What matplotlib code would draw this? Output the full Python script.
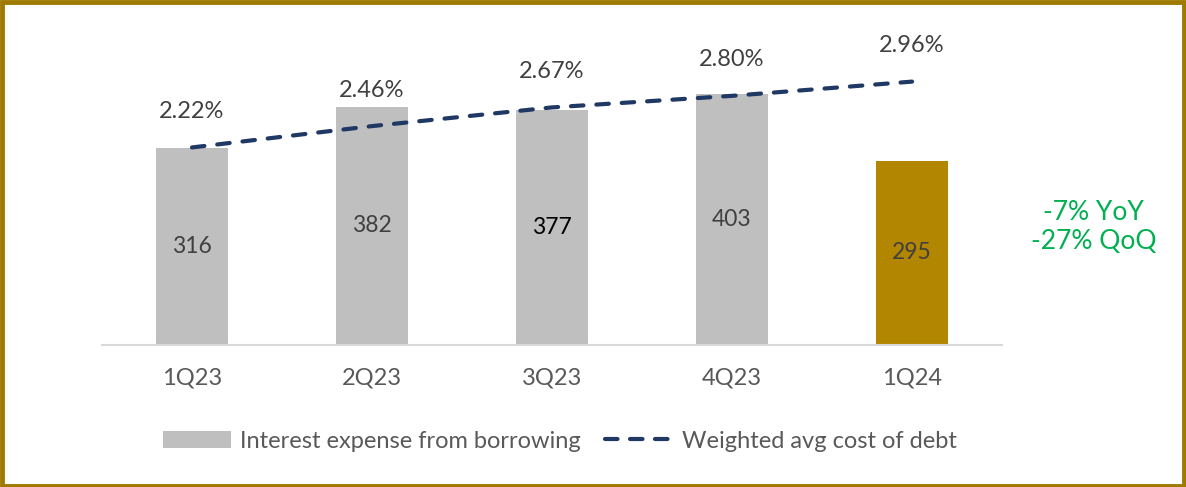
import matplotlib
matplotlib.use("Agg")
import matplotlib.pyplot as plt
from matplotlib.patches import Rectangle, Patch
from matplotlib.lines import Line2D

plt.rcParams['font.family'] = ['Lato', 'DejaVu Sans']

quarters = ['1Q23', '2Q23', '3Q23', '4Q23', '1Q24']
interest_expense = [316, 382, 377, 403, 295]
cost_of_debt = [2.22, 2.46, 2.67, 2.80, 2.96]
bar_colors = ['#BFBFBF', '#BFBFBF', '#BFBFBF', '#BFBFBF', '#B38600']
value_colors = ['#404040', '#404040', '#000000', '#404040', '#404040']

navy = '#1F3864'
text_grey = '#595959'

fig = plt.figure(figsize=(11.86, 4.87), dpi=100)
ax = fig.add_axes([0.086, 0.2916, 0.7589, 0.6468])
ax2 = ax.twinx()

x = list(range(len(quarters)))
ax.bar(x, interest_expense, width=0.4, color=bar_colors, zorder=2)
for i, v in enumerate(interest_expense):
    ax.text(i, v / 2, f'{v}', ha='center', va='center', fontsize=16.5,
            color=value_colors[i])

ax.set_xlim(-0.5, 4.5)
ax.set_ylim(0, 505)
ax.set_xticks(x)
ax.set_xticklabels(quarters, fontsize=17, color=text_grey)
ax.tick_params(axis='x', length=0, pad=16)
ax.set_yticks([])
for side in ['top', 'right', 'left']:
    ax.spines[side].set_visible(False)
ax.spines['bottom'].set_color('#D9D9D9')
ax.spines['bottom'].set_linewidth(1.5)

# cost of debt on its own scale, dashed (gap tuned so the last dash reaches 1Q24)
ax2.plot(x, cost_of_debt, color=navy, lw=3, linestyle=(0, (3, 3.1)),
         dash_capstyle='round', zorder=3)
for i, v in enumerate(cost_of_debt):
    ax2.annotate(f'{v:.2f}%', (i, v), xytext=(0, 36), textcoords='offset pixels',
                 ha='center', va='center', fontsize=17, color='#404040')
ax2.set_ylim(0, 3.54)
ax2.set_yticks([])
for side in ['top', 'right', 'left', 'bottom']:
    ax2.spines[side].set_visible(False)

fig.text(0.922, 0.534, '-7% YoY\n-27% QoQ', ha='center', va='center',
         fontsize=19, color='#00B050', linespacing=1.2)

handles = [Patch(facecolor='#BFBFBF', label='Interest expense from borrowing'),
           Line2D([0], [0], color=navy, lw=3, linestyle=(0, (3, 3)),
                  dash_capstyle='round', label='Weighted avg cost of debt')]
fig.legend(handles=handles, loc='center', bbox_to_anchor=(0.472, 0.094), ncol=2,
           frameon=False, fontsize=17, labelcolor=text_grey, handlelength=2.9,
           handleheight=0.7, handletextpad=0.35, columnspacing=1.05)

fig.patches.append(Rectangle((0.002, 0.003), 0.996, 0.993, transform=fig.transFigure,
                             fill=False, edgecolor='#9E7A00', lw=3.5))

fig.savefig('out.png', dpi=100)
